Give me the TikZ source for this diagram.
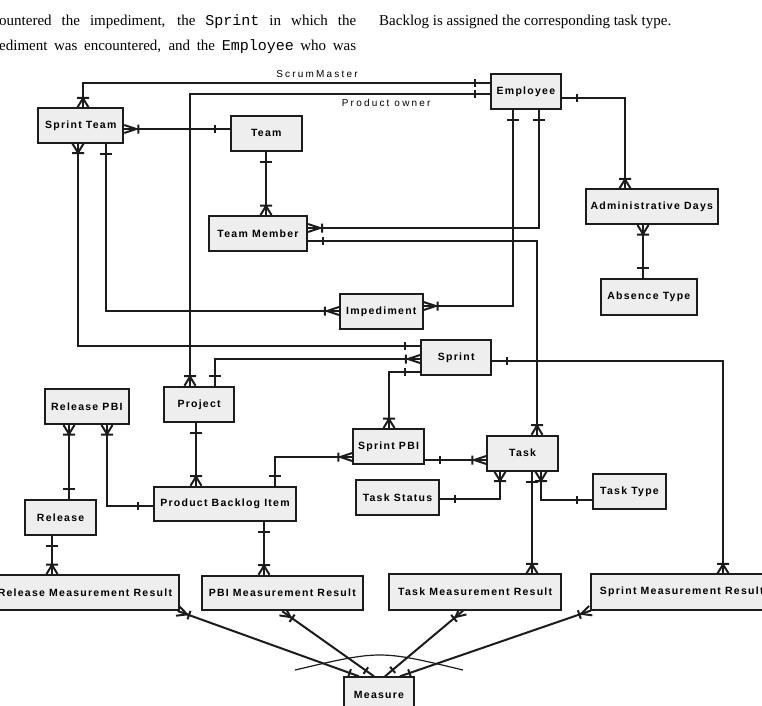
\documentclass[tikz,border=0pt]{standalone}
\usepackage{fontspec}
\setmainfont{Liberation Serif}
\setmonofont{Liberation Mono}
\newfontfamily\boxfamily[LetterSpace=12]{Liberation Sans}
\newfontfamily\lblfamily[LetterSpace=22]{Liberation Sans}
\usetikzlibrary{backgrounds,calc}
\definecolor{boxfill}{RGB}{238,238,238}
\definecolor{ink}{RGB}{28,28,28}

% cardinality marks: #1 = point on the entity border, #2 = direction of the line (degrees)
\newcommand\oneH[2]{\begin{scope}[shift={#1},rotate=#2]\draw[conn] (15,-4) -- (15,4);\end{scope}}
\newcommand\oneV[2]{\begin{scope}[shift={#1},rotate=#2]\draw[conn] (10,-6) -- (10,6);\end{scope}}
\newcommand\manyH[2]{\begin{scope}[shift={#1},rotate=#2]\draw[conn] (0,-4) -- (12,0) -- (0,4) (14,-4.5) -- (14,4.5);\end{scope}}
\newcommand\manyV[2]{\begin{scope}[shift={#1},rotate=#2]\draw[conn] (0,-5.5) -- (9,0) -- (0,5.5) (9.5,-6) -- (9.5,6);\end{scope}}
% slanted lines: #1 = point on the entity border, #2 = other end of the line
\newcommand\slantdir[2]{\path let \p1=#1, \p2=#2 in \pgfextra{\pgfmathparse{atan2(\y2-\y1,\x2-\x1)}\xdef\slang{\pgfmathresult}\xdef\slx{\x1}\xdef\sly{\y1}};}
\newcommand\manyD[2]{\slantdir{#1}{#2}\begin{scope}[shift={(\slx,\sly)},rotate=\slang]\draw[conn] (0,-5) -- (10,0) -- (0,5) (12,-4.5) -- (12,4.5);\end{scope}}
\newcommand\oneD[2]{\slantdir{#1}{#2}\begin{scope}[shift={(\slx,\sly)},rotate=\slang]\draw[conn] (10,-4) -- (10,4);\end{scope}}

\begin{document}
\begin{tikzpicture}[x=1pt,y=-1pt,
  conn/.style={draw=ink,line width=2pt},
  ent/.style={draw=ink,line width=2pt,fill=boxfill,inner sep=0pt,
    font=\boxfamily\bfseries\fontsize{10.5}{12}\selectfont},
  role/.style={inner sep=0pt,font=\lblfamily\fontsize{10}{12}\selectfont},
  prose/.style={inner sep=0pt,anchor=base west,font=\fontsize{15}{18}\selectfont}]
\useasboundingbox (0,0) rectangle (762,705);

% running text of the page
\node[prose] (pa) at (-1,25) {\makebox[357pt][s]{ountered the impediment, the \texttt{Sprint} in which the}};
\node[prose] (pb) at (-1,50) {\makebox[357pt][s]{ediment was encountered, and the \texttt{Employee} who was}};
\node[prose] (pc) at (379,25) {Backlog is assigned the corresponding task type.};

% entities
\node[ent,minimum width=70.3pt,minimum height=35pt] (emp) at (525.9,91.5) {Employee};
\node[ent,minimum width=85pt,minimum height=34.4pt] (st) at (80.8,125.5) {Sprint Team};
\node[ent,minimum width=70.7pt,minimum height=34.7pt] (team) at (266.3,133.3) {Team};
\node[ent,minimum width=98pt,minimum height=35pt] (tm) at (258,233.5) {Team Member};
\node[ent,minimum width=132.3pt,minimum height=34.7pt] (ad) at (651.8,206.7) {Administrative Days};
\node[ent,minimum width=96.3pt,minimum height=35.7pt] (abs) at (648.8,297.2) {Absence Type};
\node[ent,minimum width=82.7pt,minimum height=34.7pt] (imp) at (381.3,311.3) {Impediment};
\node[ent,minimum width=70.5pt,minimum height=34.8pt] (spr) at (456.2,357.6) {Sprint};
\node[ent,minimum width=70.2pt,minimum height=35.3pt] (proj) at (199.1,404.3) {Project};
\node[ent,minimum width=83.7pt,minimum height=35pt] (rpbi) at (86.8,406.5) {Release PBI};
\node[ent,minimum width=70.7pt,minimum height=35pt] (spbi) at (388.6,446.5) {Sprint PBI};
\node[ent,minimum width=70.7pt,minimum height=35pt] (task) at (522.6,453.2) {Task};
\node[ent,minimum width=72.4pt,minimum height=34.7pt] (tt) at (629.5,491.3) {Task Type};
\node[ent,minimum width=83.6pt,minimum height=34.7pt] (ts) at (397.5,497.3) {Task Status};
\node[ent,minimum width=142pt,minimum height=34.6pt] (pbi) at (225,504) {Product Backlog Item};
\node[ent,minimum width=70.7pt,minimum height=35.3pt] (rel) at (60.6,517.6) {Release};
\node[ent,minimum width=187.6pt,minimum height=35pt] (rmr) at (84.9,592.5) {Release Measurement Result};
\node[ent,minimum width=160.7pt,minimum height=34.6pt] (pbimr) at (282.3,593) {PBI Measurement Result};
\node[ent,minimum width=171.7pt,minimum height=35.2pt] (tmr) at (475.2,592) {Task Measurement Result};
\node[ent,minimum width=182pt,minimum height=35.2pt] (smr) at (681.7,592) {Sprint Measurement Result};
\node[ent,minimum width=70pt,minimum height=35pt] (meas) at (379,694.8) {Measure};

% role names
\node[role] (lsm) at (317,74) {ScrumMaster};
\node[role] (lpo) at (386.2,102.5) {Product owner};

\begin{pgfonlayer}{background}
% Employee as ScrumMaster / Product owner
\draw[conn] (emp.west |- 0,83) -| (st.north -| 83,0);
\oneH{(emp.west |- 0,83)}{180} \manyV{(st.north -| 83,0)}{90}
\draw[conn] (emp.west |- 0,94) -| (proj.north -| 190,0);
\oneH{(emp.west |- 0,94)}{180} \manyV{(proj.north -| 190,0)}{90}
% Employee - Administrative Days - Absence Type
\draw[conn] (emp.east |- 0,98) -| (ad.north -| 625,0);
\oneH{(emp.east |- 0,98)}{0} \manyV{(ad.north -| 625,0)}{90}
\draw[conn] (ad.south -| 643,0) -- (abs.north -| 643,0);
\manyV{(ad.south -| 643,0)}{270} \oneV{(abs.north -| 643,0)}{90}
% Sprint Team - Team - Team Member
\draw[conn] (st.east |- 0,129) -- (team.west |- 0,129);
\manyH{(st.east |- 0,129)}{0} \oneH{(team.west |- 0,129)}{180}
\draw[conn] (team.south -| 266,0) -- (tm.north -| 266,0);
\oneV{(team.south -| 266,0)}{270} \manyV{(tm.north -| 266,0)}{90}
% Employee - Team Member, Employee - Impediment
\draw[conn] (emp.south -| 539,0) |- (tm.east |- 0,228);
\oneV{(emp.south -| 539,0)}{270} \manyH{(tm.east |- 0,228)}{0}
\draw[conn] (emp.south -| 513,0) |- (imp.east |- 0,306);
\oneV{(emp.south -| 513,0)}{270} \manyH{(imp.east |- 0,306)}{0}
% Team Member - Task
\draw[conn] (tm.east |- 0,241) -| (task.north -| 537,0);
\oneH{(tm.east |- 0,241)}{0} \manyV{(task.north -| 537,0)}{90}
% Sprint Team - Impediment, Sprint Team - Sprint
\draw[conn] (st.south -| 106,0) |- (imp.west |- 0,311);
\oneV{(st.south -| 106,0)}{270} \manyH{(imp.west |- 0,311)}{180}
\draw[conn] (st.south -| 78,0) |- (spr.west |- 0,346);
\manyV{(st.south -| 78,0)}{270} \oneH{(spr.west |- 0,346)}{180}
% Project - Sprint
\draw[conn] (proj.north -| 215,0) |- (spr.west |- 0,359);
\oneV{(proj.north -| 215,0)}{90} \manyH{(spr.west |- 0,359)}{180}
% Sprint - Sprint PBI, Sprint - Sprint Measurement Result
\draw[conn] (spr.west |- 0,372) -| (spbi.north -| 389,0);
\oneH{(spr.west |- 0,372)}{180} \manyV{(spbi.north -| 389,0)}{90}
\draw[conn] (spr.east |- 0,361) -| (smr.north -| 723,0);
\oneH{(spr.east |- 0,361)}{0} \manyV{(smr.north -| 723,0)}{90}
% Sprint PBI - Task, Product Backlog Item - Sprint PBI
\draw[conn] (spbi.east |- 0,460) -- (task.west |- 0,460);
\oneH{(spbi.east |- 0,460)}{0} \manyH{(task.west |- 0,460)}{180}
\draw[conn] (pbi.north -| 275,0) |- (spbi.west |- 0,457);
\oneV{(pbi.north -| 275,0)}{90} \manyH{(spbi.west |- 0,457)}{180}
% Project - Product Backlog Item
\draw[conn] (proj.south -| 196,0) -- (pbi.north -| 196,0);
\oneV{(proj.south -| 196,0)}{270} \manyV{(pbi.north -| 196,0)}{90}
% Release PBI - Release, Release PBI - Product Backlog Item
\draw[conn] (rpbi.south -| 69,0) -- (rel.north -| 69,0);
\manyV{(rpbi.south -| 69,0)}{270} \oneV{(rel.north -| 69,0)}{90}
\draw[conn] (rpbi.south -| 107,0) |- (pbi.west |- 0,506);
\manyV{(rpbi.south -| 107,0)}{270} \oneH{(pbi.west |- 0,506)}{180}
% measurement results
\draw[conn] (rel.south -| 52,0) -- (rmr.north -| 52,0);
\oneV{(rel.south -| 52,0)}{270} \manyV{(rmr.north -| 52,0)}{90}
\draw[conn] (pbi.south -| 264,0) -- (pbimr.north -| 264,0);
\oneV{(pbi.south -| 264,0)}{270} \manyV{(pbimr.north -| 264,0)}{90}
% Task Status / Task Type - Task, Task - Task Measurement Result
\draw[conn] (ts.east |- 0,499) -| (task.south -| 500,0);
\oneH{(ts.east |- 0,499)}{0} \manyV{(task.south -| 500,0)}{270}
\draw[conn] (tt.west |- 0,500) -| (task.south -| 541,0);
\oneH{(tt.west |- 0,500)}{180} \manyV{(task.south -| 541,0)}{270}
\draw[conn] (task.south -| 532,0) -- (tmr.north -| 532,0);
\oneV{(task.south -| 532,0)}{270} \manyV{(tmr.north -| 532,0)}{90}
% Measure - measurement results
\draw[conn] ([xshift=-2pt]rmr.south east) -- ([xshift=-20pt]meas.north);
\manyD{([xshift=-2pt]rmr.south east)}{([xshift=-20pt]meas.north)}
\oneD{([xshift=-20pt]meas.north)}{([xshift=-2pt]rmr.south east)}
\draw[conn] (pbimr.south) -- ([xshift=-5pt]meas.north);
\manyD{(pbimr.south)}{([xshift=-5pt]meas.north)}
\oneD{([xshift=-5pt]meas.north)}{(pbimr.south)}
\draw[conn] ([xshift=-12pt]tmr.south) -- ([xshift=6pt]meas.north);
\manyD{([xshift=-12pt]tmr.south)}{([xshift=6pt]meas.north)}
\oneD{([xshift=6pt]meas.north)}{([xshift=-12pt]tmr.south)}
\draw[conn] ([xshift=1pt]smr.south west) -- ([xshift=21pt]meas.north);
\manyD{([xshift=1pt]smr.south west)}{([xshift=21pt]meas.north)}
\oneD{([xshift=21pt]meas.north)}{([xshift=1pt]smr.south west)}
% exclusive arc over the four Measure lines
\draw[conn,line width=1.2pt] (295,670) .. controls (380,650) .. (463,670);
\end{pgfonlayer}
\end{tikzpicture}
\end{document}
